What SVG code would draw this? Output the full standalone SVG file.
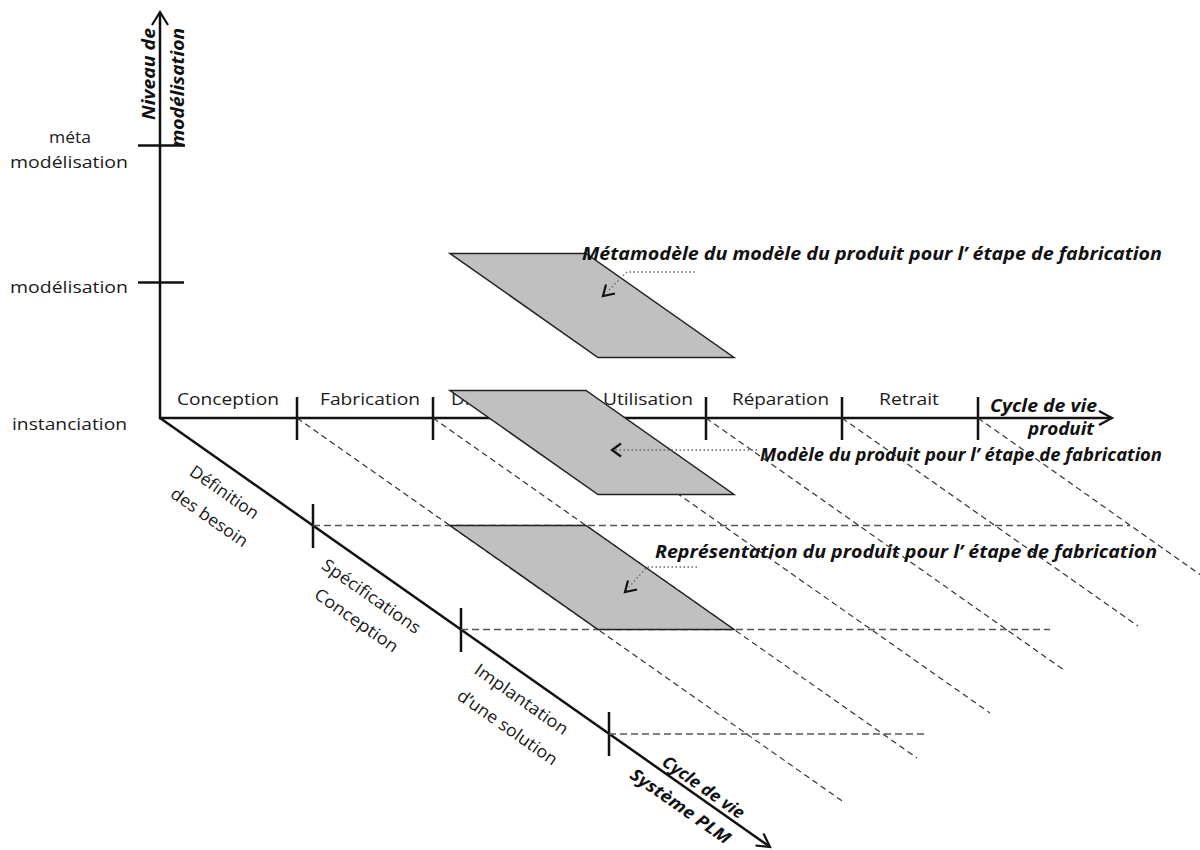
<svg xmlns="http://www.w3.org/2000/svg" width="1200" height="850" viewBox="0 0 1200 850">
<style>
.axis{stroke:#111;stroke-width:2.5;fill:none;stroke-linecap:butt}
.tick{stroke:#111;stroke-width:2.5}
.ddiag{stroke:#333;stroke-width:1.2;stroke-dasharray:6 4;fill:none}
.dhor{stroke:#555;stroke-width:1.6;stroke-dasharray:7 4;fill:none}
.dot{stroke:#666;stroke-width:1.3;stroke-dasharray:1.5 2.5;fill:none}
.chev{stroke:#111;stroke-width:2.2;fill:none;stroke-linejoin:miter}
.plane{fill:#c0c0c0;stroke:#222;stroke-width:1.5}
.lbl{font-family:"Open Sans","Liberation Sans",sans-serif;font-size:17px;fill:#1a1a1a}
.bi{font-family:"Open Sans","Liberation Sans",sans-serif;font-size:17px;font-weight:bold;font-style:italic;fill:#111}
</style>
<g id="axes">
<line class="axis" x1="160" y1="419" x2="160" y2="12"/>
<polyline class="chev" points="152,25 160,12 168,25"/>
<line class="axis" x1="159" y1="418" x2="1111" y2="418"/>
<polyline class="chev" points="1099,411 1112,418 1099,425"/>
<line class="axis" x1="160" y1="418" x2="768" y2="845.5"/>
<polyline class="chev" points="755.5,845.5 770,847 763.5,833.5"/>
</g>
<g id="ticks">
<line class="tick" x1="138" y1="145.5" x2="185" y2="145.5"/>
<line class="tick" x1="138" y1="282.5" x2="184" y2="282.5"/>
<line class="tick" x1="297" y1="397" x2="297" y2="440"/>
<line class="tick" x1="433" y1="397" x2="433" y2="440"/>
<line class="tick" x1="570" y1="397" x2="570" y2="440"/>
<line class="tick" x1="706" y1="397" x2="706" y2="440"/>
<line class="tick" x1="842" y1="397" x2="842" y2="440"/>
<line class="tick" x1="978" y1="397" x2="978" y2="440"/>
<line class="tick" x1="313" y1="504" x2="313" y2="548"/>
<line class="tick" x1="461" y1="608" x2="461" y2="652"/>
<line class="tick" x1="609" y1="712" x2="609" y2="756"/>
</g>
<g id="level-labels">
<text class="lbl" x="70" y="143" text-anchor="middle" textLength="42" lengthAdjust="spacingAndGlyphs">méta</text>
<text class="lbl" x="10" y="168" textLength="118" lengthAdjust="spacingAndGlyphs">modélisation</text>
<text class="lbl" x="10" y="293" textLength="118" lengthAdjust="spacingAndGlyphs">modélisation</text>
<text class="lbl" x="12" y="430" textLength="115" lengthAdjust="spacingAndGlyphs">instanciation</text>
<text class="bi" transform="translate(155,120) rotate(-90)" textLength="92" lengthAdjust="spacingAndGlyphs">Niveau de</text>
<text class="bi" transform="translate(184,147) rotate(-90)" textLength="119" lengthAdjust="spacingAndGlyphs">modélisation</text>
</g>
<g id="product-labels">
<text class="lbl" x="177" y="405" textLength="102" lengthAdjust="spacingAndGlyphs">Conception</text>
<text class="lbl" x="320" y="405" textLength="100" lengthAdjust="spacingAndGlyphs">Fabrication</text>
<text class="lbl" x="451" y="405" textLength="104" lengthAdjust="spacingAndGlyphs">Distribution</text>
<text class="lbl" x="603" y="405" textLength="90" lengthAdjust="spacingAndGlyphs">Utilisation</text>
<text class="lbl" x="732" y="405" textLength="97" lengthAdjust="spacingAndGlyphs">Réparation</text>
<text class="lbl" x="879" y="405" textLength="60" lengthAdjust="spacingAndGlyphs">Retrait</text>
<text class="bi" x="990" y="412" textLength="107" lengthAdjust="spacingAndGlyphs">Cycle de vie</text>
<text class="bi" x="1028" y="435" font-size="16" textLength="66" lengthAdjust="spacingAndGlyphs">produit</text>
</g>
<g id="plm-labels">
<text class="lbl" transform="translate(224,493) rotate(35)" y="5" text-anchor="middle" textLength="80" lengthAdjust="spacingAndGlyphs">Définition</text>
<text class="lbl" transform="translate(209,518) rotate(35)" y="5" text-anchor="middle" textLength="90" lengthAdjust="spacingAndGlyphs">des besoin</text>
<text class="lbl" transform="translate(371,597) rotate(35)" y="5" text-anchor="middle" textLength="116" lengthAdjust="spacingAndGlyphs">Spécifications</text>
<text class="lbl" transform="translate(356,621) rotate(35)" y="5" text-anchor="middle" textLength="98" lengthAdjust="spacingAndGlyphs">Conception</text>
<text class="lbl" transform="translate(521,700) rotate(35)" y="5" text-anchor="middle" textLength="110" lengthAdjust="spacingAndGlyphs">Implantation</text>
<text class="lbl" transform="translate(507,728) rotate(35)" y="5" text-anchor="middle" textLength="118" lengthAdjust="spacingAndGlyphs">d’une solution</text>
<text class="bi" transform="translate(703,788) rotate(35)" y="5" text-anchor="middle" textLength="96" lengthAdjust="spacingAndGlyphs">Cycle de vie</text>
<text class="bi" transform="translate(680,807) rotate(35)" y="5" text-anchor="middle" textLength="118" lengthAdjust="spacingAndGlyphs">Système PLM</text>
</g>
<g id="grid">
<line class="ddiag" x1="297" y1="418" x2="845" y2="803"/>
<line class="ddiag" x1="433" y1="418" x2="917" y2="758"/>
<line class="ddiag" x1="570" y1="418" x2="990" y2="713"/>
<line class="ddiag" x1="706" y1="418" x2="1064" y2="670"/>
<line class="ddiag" x1="842" y1="418" x2="1138" y2="626"/>
<line class="ddiag" x1="978" y1="418" x2="1215" y2="585"/>
<line class="dhor" x1="313" y1="525.5" x2="1130" y2="525.5"/>
<line class="dhor" x1="461" y1="629.5" x2="1050" y2="629.5"/>
<line class="dhor" x1="609" y1="734" x2="928" y2="734"/>
</g>
<g id="plane-meta">
<polygon class="plane" points="450,253.5 586,253.5 734,357.5 598,357.5"/>
</g>
<g id="plane-model">
<polygon class="plane" points="450,390.5 586,390.5 734,494.5 598,494.5"/>
</g>
<g id="plane-repr">
<polygon class="plane" points="450,525.5 586,525.5 734,629.5 598,629.5"/>
</g>
<g id="connectors">
<polyline class="dot" points="695,272 627,272 607,292"/>
<polyline class="chev" points="615,293.5 603,296 606,284.5"/>
<line class="dot" x1="757" y1="450" x2="614" y2="450"/>
<polyline class="chev" points="621,443.5 612,450 621,456.5"/>
<polyline class="dot" points="697,567 647,567 629,587"/>
<polyline class="chev" points="637,589.5 625,592 628,580.5"/>
</g>
<g id="callout-labels">
<text class="bi" x="582" y="260" textLength="580" lengthAdjust="spacingAndGlyphs">Métamodèle du modèle du produit pour l’ étape de fabrication</text>
<text class="bi" x="760" y="461" textLength="402" lengthAdjust="spacingAndGlyphs">Modèle du produit pour l’ étape de fabrication</text>
<text class="bi" x="655" y="558" textLength="502" lengthAdjust="spacingAndGlyphs">Représentation du produit pour l’ étape de fabrication</text>
</g>
</svg>
